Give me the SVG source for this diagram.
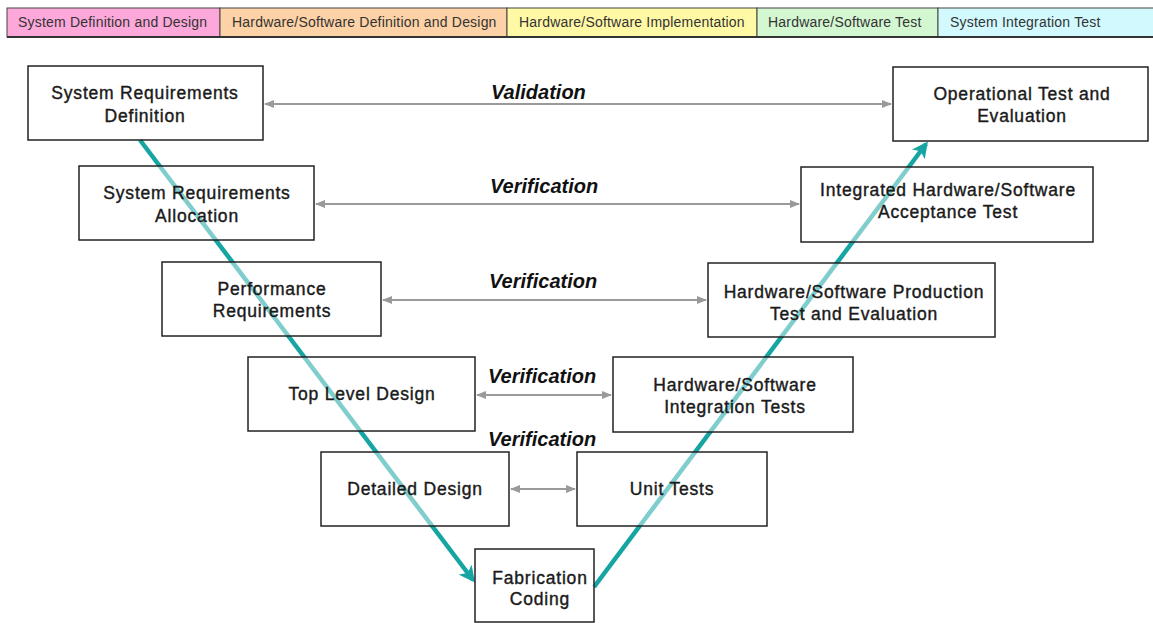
<svg xmlns="http://www.w3.org/2000/svg" width="1153" height="623" viewBox="0 0 1153 623">
<style>
.hdr{font-family:"Liberation Sans",Arial,sans-serif;font-size:14px;fill:#333;letter-spacing:0.2px}
.box{fill:#fff;fill-opacity:0.45;stroke:#222;stroke-width:1.5}
.t{font-family:"Liberation Sans",Arial,sans-serif;font-size:17.5px;fill:#1a1a1a;stroke:#1a1a1a;stroke-width:0.4px;text-anchor:middle;letter-spacing:0.8px}
.lbl{font-family:"Liberation Sans",Arial,sans-serif;font-size:20px;font-weight:bold;font-style:italic;fill:#111}
.ga{stroke:#9a9a9a;stroke-width:2;fill:none;marker-start:url(#gh);marker-end:url(#gh)}
.teal{stroke:#17a5a3;stroke-width:4.5;fill:none;marker-end:url(#th)}
</style>
<defs>
<marker id="gh" viewBox="0 0 10 10" refX="9" refY="5" markerWidth="5" markerHeight="5" orient="auto-start-reverse" markerUnits="strokeWidth">
<path d="M0,1 L10,5 L0,9 z" fill="#9a9a9a"/>
</marker>
<marker id="th" viewBox="0 0 10 10" refX="8" refY="5" markerWidth="4" markerHeight="3.6" orient="auto" markerUnits="strokeWidth">
<path d="M0,0 L10,5 L0,10 L2.5,5 z" fill="#17a5a3"/>
</marker>
</defs>
<rect width="1153" height="623" fill="#fff"/>
<g id="header">
<rect x="7" y="8" width="213" height="29" fill="#fca8da" stroke="#444" stroke-width="1"/>
<rect x="220" y="8" width="287" height="29" fill="#fdd2a6" stroke="#444" stroke-width="1"/>
<rect x="507" y="8" width="250" height="29" fill="#fff9a6" stroke="#444" stroke-width="1"/>
<rect x="757" y="8" width="181" height="29" fill="#d3f7d1" stroke="#444" stroke-width="1"/>
<rect x="938" y="8" width="216" height="29" fill="#d2fafe" stroke="#444" stroke-width="1"/>
<line x1="7" y1="37" x2="1153" y2="37" stroke="#333" stroke-width="2"/>
<text class="hdr" x="18" y="27">System Definition and Design</text>
<text class="hdr" x="232" y="27">Hardware/Software Definition and Design</text>
<text class="hdr" x="519" y="27">Hardware/Software Implementation</text>
<text class="hdr" x="768" y="27">Hardware/Software Test</text>
<text class="hdr" x="950" y="27">System Integration Test</text>
</g>
<g id="connectors">
<line class="ga" x1="265" y1="104" x2="891" y2="104"/>
<line class="ga" x1="316" y1="204" x2="799" y2="204"/>
<line class="ga" x1="383" y1="300" x2="706" y2="300"/>
<line class="ga" x1="477" y1="395" x2="611" y2="395"/>
<line class="ga" x1="511" y1="489" x2="575" y2="489"/>
<line class="teal" x1="140" y1="140" x2="473" y2="580"/>
<line class="teal" x1="594" y1="587" x2="926" y2="144"/>
</g>
<g id="labels">
<text class="lbl" x="491" y="99">Validation</text>
<text class="lbl" x="490" y="193">Verification</text>
<text class="lbl" x="489" y="288">Verification</text>
<text class="lbl" x="488" y="383">Verification</text>
<text class="lbl" x="488" y="446">Verification</text>
</g>
<g id="n-srd"><rect class="box" x="28" y="66" width="235" height="74"/><text class="t" x="145" y="99">System Requirements</text><text class="t" x="145" y="122">Definition</text></g>
<g id="n-sra"><rect class="box" x="79" y="166" width="235" height="74"/><text class="t" x="197" y="199">System Requirements</text><text class="t" x="197" y="222">Allocation</text></g>
<g id="n-perf"><rect class="box" x="162" y="262" width="219" height="74"/><text class="t" x="272" y="295">Performance</text><text class="t" x="272" y="317">Requirements</text></g>
<g id="n-tld"><rect class="box" x="248" y="357" width="227" height="74"/><text class="t" x="362" y="400">Top Level Design</text></g>
<g id="n-dd"><rect class="box" x="321" y="452" width="188" height="74"/><text class="t" x="415" y="495">Detailed Design</text></g>
<g id="n-fab"><rect class="box" x="475" y="549" width="119" height="73"/><text class="t" x="540" y="584">Fabrication</text><text class="t" x="540" y="605">Coding</text></g>
<g id="n-unit"><rect class="box" x="577" y="452" width="190" height="74"/><text class="t" x="672" y="495">Unit Tests</text></g>
<g id="n-hsit"><rect class="box" x="613" y="357" width="240" height="75"/><text class="t" x="735" y="391">Hardware/Software</text><text class="t" x="735" y="413">Integration Tests</text></g>
<g id="n-hspt"><rect class="box" x="708" y="263" width="287" height="74"/><text class="t" x="854" y="298">Hardware/Software Production</text><text class="t" x="854" y="320">Test and Evaluation</text></g>
<g id="n-iat"><rect class="box" x="801" y="167" width="292" height="75"/><text class="t" x="948" y="196">Integrated Hardware/Software</text><text class="t" x="948" y="218">Acceptance Test</text></g>
<g id="n-ote"><rect class="box" x="893" y="67" width="255" height="74"/><text class="t" x="1022" y="100">Operational Test and</text><text class="t" x="1022" y="122">Evaluation</text></g>
</svg>
